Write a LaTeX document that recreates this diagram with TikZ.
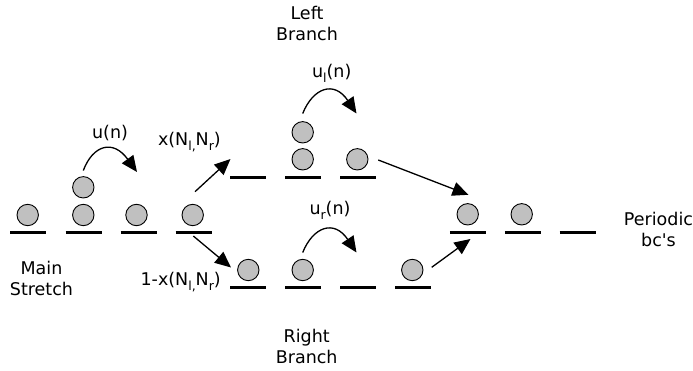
\documentclass[tikz,border=0pt]{standalone}
\usepackage{fontspec}
\setmainfont{DejaVu Sans}
\usetikzlibrary{arrows.meta}
\definecolor{ballgray}{RGB}{192,192,192}
\tikzset{
  ball/.style={circle,draw=black,line width=0.9pt,fill=ballgray,minimum size=21.4pt,inner sep=0pt},
  site/.style={line width=2.6pt},
  hop/.style={line width=1.3pt,-{Triangle[length=16pt,width=14pt]}},
  lbl/.style={font=\fontsize{17.5}{21}\selectfont,inner sep=0pt},
  title/.style={lbl,align=center}
}
% lowered small index, as in N_l or u_r
\newcommand{\lowsub}[1]{\raisebox{-5pt}{\fontsize{12.5}{12.5}\selectfont #1}}
% lattice site: a short horizontal bar of width 36pt centred at x
\newcommand{\sitebar}[3]{%
  \coordinate (#1a) at (#2-18,#3);
  \coordinate (#1b) at (#2+18,#3);
  \draw[site] (#1a) -- (#1b);}
\begin{document}
\begin{tikzpicture}[x=1pt,y=-1pt]
\useasboundingbox (0,0) rectangle (693,371);

% main stretch
\sitebar{m1}{28}{232.7}
\sitebar{m2}{83.5}{232.7}
\sitebar{m3}{138.5}{232.7}
\sitebar{m4}{193.5}{232.7}
\node[ball] (bm1) at (27.7,215) {};
\node[ball] (bm2) at (83.3,215) {};
\node[ball] (bm2t) at (83.3,187.3) {};
\node[ball] (bm3) at (136.5,215) {};
\node[ball] (bm4) at (192.7,215) {};

% left branch
\sitebar{l1}{248.3}{177.7}
\sitebar{l2}{303}{177.7}
\sitebar{l3}{358}{177.7}
\node[ball] (bl2) at (302.7,159.3) {};
\node[ball] (bl2t) at (302.7,132.3) {};
\node[ball] (bl3) at (357.3,159.3) {};

% right branch
\sitebar{r1}{248.3}{287.7}
\sitebar{r2}{303}{287.7}
\sitebar{r3}{358}{287.7}
\sitebar{r4}{413.3}{287.7}
\node[ball] (br1) at (248.3,270) {};
\node[ball] (br2) at (302.7,270) {};
\node[ball] (br4) at (412.3,270) {};

% merged stretch with periodic boundary
\sitebar{p1}{467.8}{232.7}
\sitebar{p2}{522.8}{232.7}
\sitebar{p3}{577.5}{232.7}
\node[ball] (bp1) at (467.7,214.3) {};
\node[ball] (bp2) at (521.7,214.3) {};

% hopping arrows
\coordinate (hm0) at (83.3,170.5);
\coordinate (hm1) at (137,172);
\draw[hop] (hm0) .. controls (93,145) and (113,139) .. (hm1);
\coordinate (hl0) at (302.7,113.5);
\coordinate (hl1) at (356.5,113.5);
\draw[hop] (hl0) .. controls (313,88) and (334,80) .. (hl1);
\coordinate (hr0) at (302.7,252.5);
\coordinate (hr1) at (356.5,252.5);
\draw[hop] (hr0) .. controls (313,227) and (334,219) .. (hr1);

% branching and merging arrows
\coordinate (su) at (195,191.7);
\coordinate (eu) at (230.5,159);
\draw[hop] (su) -- (eu);
\coordinate (sd) at (193.3,236);
\coordinate (ed) at (231,267.5);
\draw[hop] (sd) -- (ed);
\coordinate (sl) at (378.3,160);
\coordinate (el) at (468.5,194.8);
\draw[hop] (sl) -- (el);
\coordinate (sr) at (431.7,267.3);
\coordinate (er) at (470.5,239);
\draw[hop] (sr) -- (er);

% labels
\node[lbl] (tu) at (110,133) {u(n)};
\node[lbl] (tul) at (331.7,73.3) {u\lowsub{l}(n)};
\node[lbl] (tur) at (330,210) {u\lowsub{r}(n)};
\node[lbl,anchor=east] (tx) at (221,141.7) {x(N\lowsub{l,}N\lowsub{r})};
\node[lbl,anchor=east] (t1x) at (221,281.7) {1-x(N\lowsub{l,}N\lowsub{r})};
\node[title] (tmain) at (41.5,278.5) {Main\\Stretch};
\node[title] (tleft) at (307,23) {Left\\Branch};
\node[title] (tright) at (306.7,346.7) {Right\\Branch};
\node[title] (tper) at (658.5,229) {Periodic\\bc\textquotesingle s};
\end{tikzpicture}
\end{document}
